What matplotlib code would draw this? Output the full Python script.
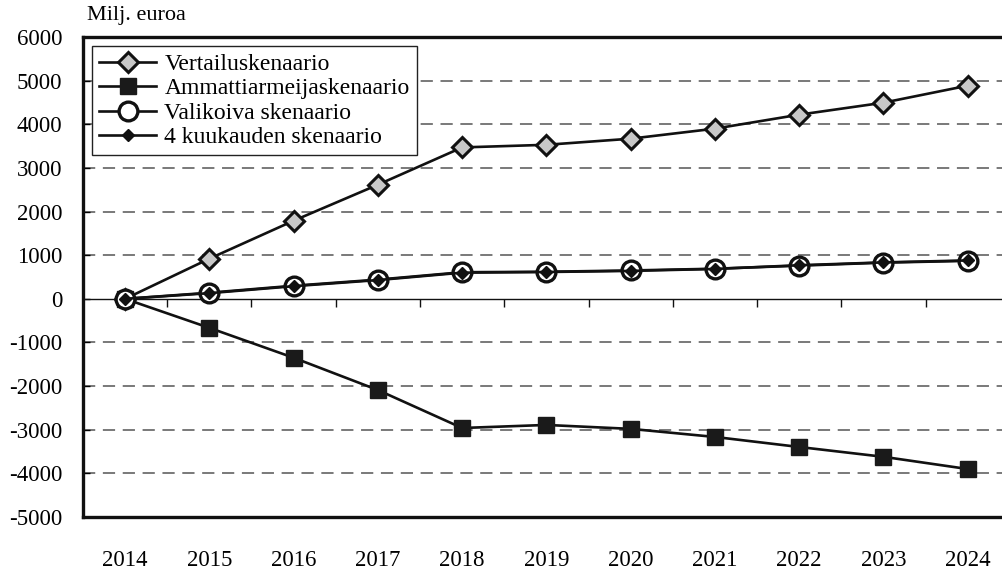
import matplotlib
matplotlib.use("Agg")
import matplotlib.pyplot as plt

# vuodet ja skenaariot (milj. euroa)
years = [2014, 2015, 2016, 2017, 2018, 2019, 2020, 2021, 2022, 2023, 2024]
vertailu = [0, 920, 1790, 2615, 3470, 3530, 3670, 3900, 4220, 4495, 4885]
ammatti = [0, -665, -1350, -2090, -2960, -2890, -2980, -3165, -3395, -3620, -3900]
valikoiva = [0, 140, 300, 440, 610, 620, 650, 690, 760, 830, 870]
kuukausi = [0, 130, 290, 430, 600, 615, 640, 685, 770, 835, 880]
labels = ['Vertailuskenaario', 'Ammattiarmeijaskenaario',
          'Valikoiva skenaario', '4 kuukauden skenaario']
yticks = list(range(-5000, 6001, 1000))

plt.rcParams['font.family'] = ['Liberation Serif', 'DejaVu Serif']

fig = plt.figure(figsize=(10.02, 5.73), dpi=100)
ax = fig.add_axes([0.0828, 0.0977, 0.925, 0.8377])

lw = 1.9
ax.plot(years, vertailu, color='#111111', lw=lw, marker='D', ms=10.5,
        mfc='#c8c8c8', mec='#111111', mew=2.2, zorder=5)
ax.plot(years, ammatti, color='#111111', lw=lw, marker='s', ms=11.5,
        mfc='#1a1a1a', mec='#1a1a1a', zorder=5)
ax.plot(years, valikoiva, color='#111111', lw=lw, marker='o', ms=13.5,
        mfc='white', mec='#111111', mew=2.4, zorder=5)
ax.plot(years, kuukausi, color='#111111', lw=lw, marker='D', ms=6.5,
        mfc='#111111', mec='#111111', zorder=6)

ax.set_xlim(2013.5, 2024.5)
ax.set_ylim(-5000, 6000)
ax.set_yticks(yticks)
ax.set_yticklabels([str(v) for v in yticks])
ax.set_xticks(years)
ax.set_xticklabels([str(y) for y in years])

# katkoviivaiset apuviivat, nollataso yhtenäinen
for v in yticks:
    if v in (0, -5000, 6000):
        continue
    ax.axhline(v, color='#555555', lw=1.1, dashes=(8, 5), zorder=1)
ax.axhline(0, color='#111111', lw=1.0, zorder=2)
bounds = [y + 0.5 for y in years[:-1]]
ax.vlines(bounds, -180, 0, color='#111111', lw=1.0, zorder=2)

ax.tick_params(axis='x', length=0, pad=24, labelsize=16.5)
ax.tick_params(axis='y', direction='in', length=5, width=1, pad=15, labelsize=16.5)
for s in ax.spines.values():
    s.set_linewidth(2.4)
    s.set_color('#111111')

leg = ax.legend(labels, loc='upper left', bbox_to_anchor=(0.0, 1.0),
                fontsize=17, labelspacing=0.12, handlelength=2.4,
                handletextpad=0.35, borderpad=0.3, borderaxespad=0.4,
                fancybox=False, framealpha=1, edgecolor='#222222')
leg.get_frame().set_linewidth(1.0)

fig.text(0.087, 0.973, 'Milj. euroa', fontsize=16, va='center', ha='left')

fig.savefig('out.png', dpi=100)
